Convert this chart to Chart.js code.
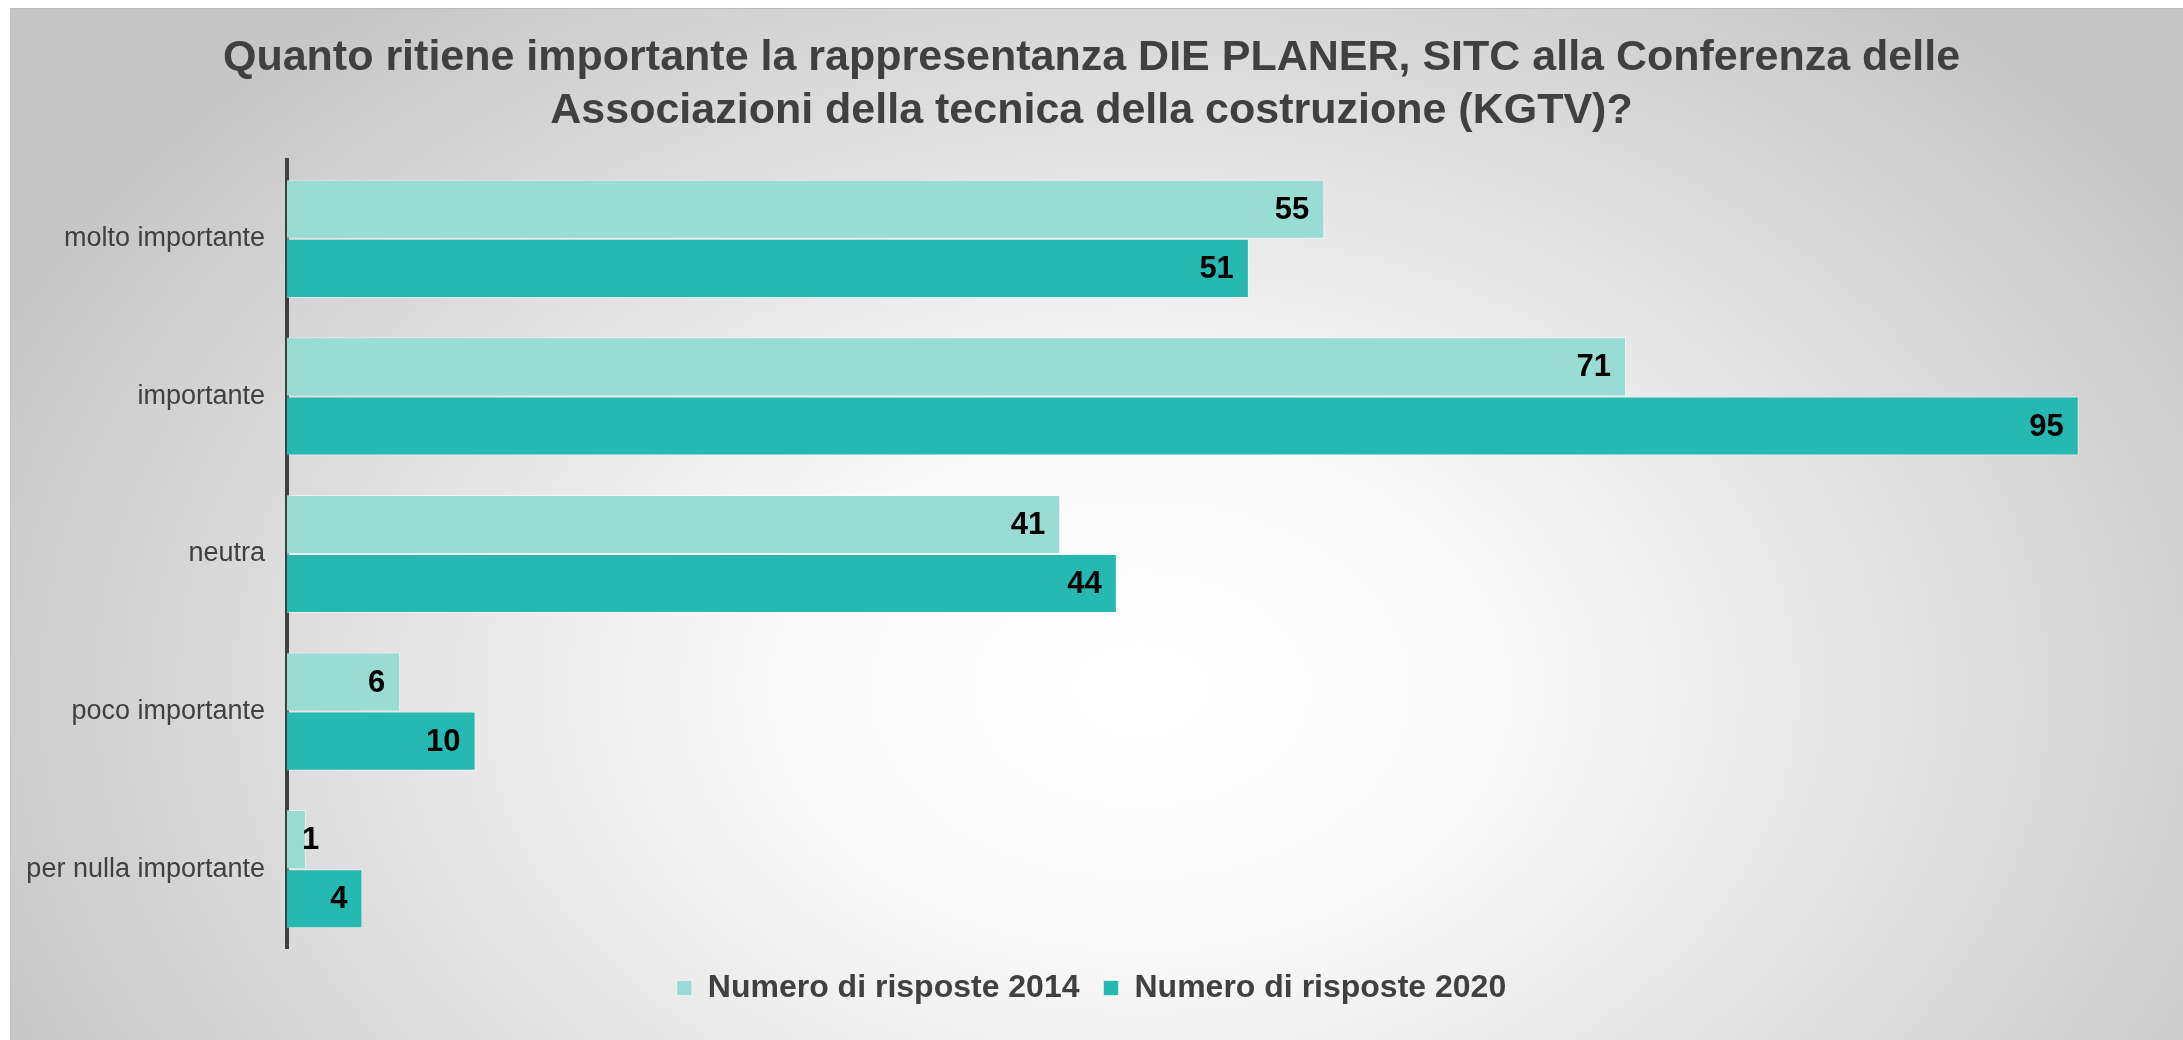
<!DOCTYPE html>
<html>
<head>
<meta charset="utf-8">
<script src="https://cdn.jsdelivr.net/npm/chart.js@4.4.1/dist/chart.umd.min.js"></script>
<style>
  html, body { margin: 0; padding: 0; background: #fff; overflow: hidden; }
  #bg {
    position: absolute; left: 10px; top: 8px; width: 2173px; height: 1032px;
    border-top: 1px solid #bdbdbd; border-left: 1px solid #c0c0c0;
    background: radial-gradient(ellipse 1250px 880px at 52% 66%, #ffffff 0%, #f9f9f9 30%, #e2e2e2 62%, #c6c6c6 100%);
  }
  #chart { position: absolute; left: 0; top: 0; }
</style>
</head>
<body>
<div id="bg"></div>
<canvas id="chart" width="2183" height="1040"></canvas>
<script>
const categories = ["molto importante", "importante", "neutra", "poco importante", "per nulla importante"]
const responses2014 = [55, 71, 41, 6, 1]
const responses2020 = [51, 95, 44, 10, 4]
const seriesNames = ["Numero di risposte 2014", "Numero di risposte 2020"]
const titleLines = [
  "Quanto ritiene importante la rappresentanza DIE PLANER, SITC alla Conferenza delle",
  "Associazioni della tecnica della costruzione (KGTV)?",
]

const colors = {
  light: "#98dcd4",
  dark: "#26b9b1",
  text: "#404040",
}
const fontFamily = "'Liberation Sans', Arial, sans-serif"

// value labels at the inner end of each bar
const barLabels = {
  id: "barLabels",
  afterDatasetsDraw(chart) {
    const ctx = chart.ctx
    ctx.save()
    ctx.font = "bold 31px " + fontFamily
    ctx.fillStyle = "#000"
    ctx.textAlign = "right"
    ctx.textBaseline = "middle"
    chart.data.datasets.forEach((ds, i) => {
      chart.getDatasetMeta(i).data.forEach((bar, j) => {
        const txt = String(ds.data[j])
        const w = ctx.measureText(txt).width
        const x = Math.max(bar.x - 15, bar.base + w + 15)
        ctx.fillText(txt, x, bar.y + 1)
      })
    })
    ctx.restore()
  },
}

Chart.defaults.font.family = fontFamily
Chart.defaults.color = colors.text

new Chart(document.getElementById("chart"), {
  type: "bar",
  data: {
    labels: categories,
    datasets: [
      {
        label: seriesNames[0],
        data: responses2014,
        backgroundColor: colors.light,
        borderColor: "rgba(255,255,255,0.5)",
        borderWidth: 1,
      },
      {
        label: seriesNames[1],
        data: responses2020,
        backgroundColor: colors.dark,
        borderColor: "rgba(255,255,255,0.5)",
        borderWidth: 1,
      },
    ],
  },
  options: {
    indexAxis: "y",
    responsive: false,
    animation: false,
    devicePixelRatio: 1,
    categoryPercentage: 0.75,
    barPercentage: 1,
    layout: { padding: { top: 8, left: 10, right: 10, bottom: 26 } },
    scales: {
      x: { display: false, min: 0, max: 100 },
      y: {
        z: 1,
        grid: { display: false, drawTicks: false },
        border: { display: true, color: "#404040", width: 4 },
        ticks: { padding: 22, color: colors.text, font: { size: 27 } },
        afterFit(scale) {
          scale.width = 287 - 10
        },
      },
    },
    plugins: {
      tooltip: { enabled: false },
      title: {
        display: true,
        text: titleLines,
        color: colors.text,
        font: { size: 43, weight: "bold", lineHeight: 1.233 },
        padding: { top: 24, bottom: 22 },
      },
      legend: {
        position: "bottom",
        labels: {
          boxWidth: 15,
          boxHeight: 15,
          padding: 24,
          color: colors.text,
          font: { size: 32, weight: "bold" },
        },
      },
    },
  },
  plugins: [barLabels],
})
</script>
</body>
</html>
